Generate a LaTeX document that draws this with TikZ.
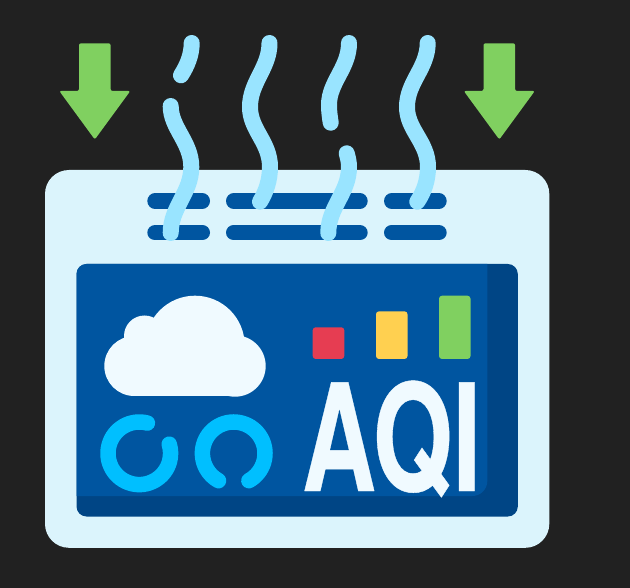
\documentclass[tikz,border=0pt]{standalone}
\usepackage{fontspec}
\newfontfamily\aqifont[FakeBold=0.3]{TeX Gyre Heros}
\definecolor{bgdark}{HTML}{212121}
\definecolor{cardblue}{HTML}{DBF4FC}
\definecolor{screendark}{HTML}{004585}
\definecolor{screenblue}{HTML}{0055A0}
\definecolor{steamblue}{HTML}{99E4FF}
\definecolor{ringblue}{HTML}{00BFFF}
\definecolor{cloudwhite}{HTML}{F0FAFF}
\definecolor{leafgreen}{HTML}{80D060}
\definecolor{barred}{HTML}{E63D52}
\definecolor{baryellow}{HTML}{FFD050}
\tikzset{
  steam/.style={draw=steamblue,line width=16pt,line cap=round},
  slot/.style={draw=screenblue,line width=15.4pt,line cap=round},
  ring/.style={draw=ringblue,line width=15.5pt,line cap=round},
  bar/.style={rounded corners=3pt},
  aqitext/.style={text=cloudwhite,inner sep=0pt,anchor=base,xscale=0.69,font=\aqifont\bfseries\fontsize{149}{149}\selectfont}
}
\begin{document}
\begin{tikzpicture}[x=1pt,y=1pt]
\useasboundingbox (0,0) rectangle (630,-588);
\fill [bgdark] (0,0) rectangle (630,-588);
% falling arrows
\foreach \ax in {94.8,499.3} {
  \fill [leafgreen,rounded corners=2pt] (\ax-15.8,-43.3) -- (\ax+15.8,-43.3) -- (\ax+15.8,-91) -- (\ax+35.5,-91)
    -- (\ax,-139.5) -- (\ax-35.5,-91) -- (\ax-15.8,-91) -- cycle;
}
% device
\fill [cardblue] (45,-170) [rounded corners=24pt] -- (549.3,-170) -- (549.3,-547.8) -- (45,-547.8) -- cycle;
\foreach \sy in {-201,-232.7} {
  \draw [slot] (155,\sy) -- (202.3,\sy);
  \draw [slot] (233.7,\sy) -- (360,\sy);
  \draw [slot] (391.7,\sy) -- (439,\sy);
}
\fill [screendark,rounded corners=10pt] (76.5,-264) rectangle (517.8,-516.5);
\fill [screenblue] (76.5,-496) [rounded corners=10pt] -- (76.5,-264) [sharp corners] -- (487.3,-264)
  [rounded corners=15pt] -- (487.3,-496) [sharp corners] -- cycle;
% steam
\draw [steam] (191.7,-43) .. controls (191.7,-55) and (187,-66) .. (181,-75.3);
\draw [steam] (170.7,-106) .. controls (170.7,-128) and (191.3,-142) .. (191.3,-167)
  .. controls (191.3,-193) and (170.7,-207) .. (170.7,-233);
\draw [steam] (269.5,-43) .. controls (269.5,-68) and (250,-82) .. (250,-107)
  .. controls (250,-130) and (270,-142) .. (270,-167) .. controls (270,-180) and (266,-192) .. (260,-201.7);
\draw [steam] (349,-43) .. controls (349,-68) and (329,-82) .. (329,-105) .. controls (329,-112) and (330,-118) .. (330.7,-122.7);
\draw [steam] (346.7,-153.3) .. controls (348,-158) and (349,-162) .. (349,-167)
  .. controls (349,-193) and (328.3,-207) .. (328.3,-233);
\draw [steam] (427.7,-43) .. controls (427.7,-68) and (407,-82) .. (407,-107)
  .. controls (407,-130) and (428,-142) .. (428,-167) .. controls (428,-180) and (424,-192) .. (417.3,-201.7);
% cloud
\fill [cloudwhite] (134.3,-366) circle (30);
\fill [cloudwhite] (235,-366) circle (30.7);
\fill [cloudwhite] (195,-345.4) circle (49.7);
\fill [cloudwhite] (144.5,-336) circle (20.5);
\fill [cloudwhite] (134.3,-396) rectangle (235,-345);
% rings
\draw [ring] (139.3,-453.3) ++(75:31.3) arc (75:377:31.3);
\draw [ring] (233.7,-453.3) ++(-61:31.3) arc (-61:241:31.3);
% bars
\fill [barred,bar] (312.7,-327.3) rectangle (344.3,-359);
\fill [baryellow,bar] (376,-311.3) rectangle (407.5,-359);
\fill [leafgreen,bar] (439,-295.7) rectangle (470.5,-359);
\node [aqitext] (aqilabel) at (391.5,-491) {AQI};
\end{tikzpicture}
\end{document}
